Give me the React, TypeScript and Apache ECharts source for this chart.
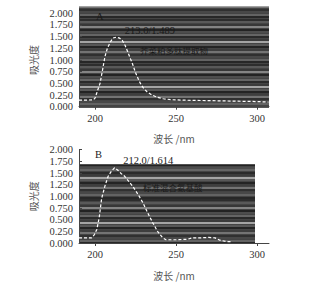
import React, { useEffect, useRef } from "react";
import * as echarts from "echarts";

// Panel A: wavelength (nm) and absorbance
const waveA = [190, 195, 199, 200, 201.5, 203, 204.5, 206, 207.5, 209.4, 211, 213, 215, 216.7, 218.5, 220, 221.5, 223, 225, 227, 228.5, 230, 232, 235, 238.5, 242, 247, 255, 270, 285, 300, 307];
const absA = [0.14, 0.14, 0.15, 0.19, 0.35, 0.5, 0.78, 1.07, 1.25, 1.39, 1.47, 1.489, 1.47, 1.42, 1.31, 1.18, 1.05, 0.92, 0.72, 0.56, 0.46, 0.39, 0.32, 0.25, 0.2, 0.17, 0.15, 0.14, 0.13, 0.12, 0.11, 0.1];
// Panel B
const waveB = [190, 194, 197.8, 199.5, 201, 202.5, 204, 206, 208, 210, 212, 214, 216, 218.2, 220.5, 223.3, 226.5, 229.5, 232.5, 235.6, 238.5, 241.7, 243.7, 250, 257, 260, 265, 270, 274, 277, 281, 284];
const absB = [0.11, 0.11, 0.11, 0.18, 0.29, 0.55, 0.96, 1.22, 1.43, 1.54, 1.614, 1.56, 1.49, 1.43, 1.33, 1.21, 1.04, 0.86, 0.64, 0.43, 0.25, 0.11, 0.07, 0.07, 0.08, 0.11, 0.11, 0.12, 0.11, 0.06, 0.03, 0.03];

const peakA = [213.0, 1.489];
const peakB = [212.0, 1.614];
const xTicks = [200, 250, 300];
const yTitle = "吸光度";
const xTitle = "波长 /nm";
const labelA = "芥菜粕多肽提取物";
const labelB = "标准混合氨基酸";

const stripes = ["#1e1e1e", "#6e6e6e", "#4a4a4a", "#2a2a2a", "#858585", "#3c3c3c", "#1a1a1a", "#5e5e5e", "#c4c4c4", "#383838", "#222222", "#707070", "#505050", "#181818", "#9a9a9a", "#333333", "#606060", "#262626"];

const serif = "Liberation Serif";
const cjk = "Noto Sans CJK SC";

function bgAxes(gi: number, n: number) {
  return {
    x: {
      type: "value", gridIndex: gi, min: 0, max: 1,
      axisLine: { show: false }, axisTick: { show: false }, axisLabel: { show: false }, splitLine: { show: false },
    },
    y: {
      type: "value", gridIndex: gi, min: 0, max: n, interval: 1,
      axisLine: { show: false }, axisTick: { show: false }, axisLabel: { show: false },
      splitLine: { show: true, lineStyle: { color: stripes, width: 1.5 } },
    },
  };
}

function mainX(gi: number) {
  return {
    type: "value", gridIndex: gi, min: 190, max: 307.3,
    name: xTitle, nameLocation: "middle", nameGap: 27,
    nameTextStyle: { fontFamily: cjk, fontSize: 10, color: "#555" },
    axisLine: { show: true, lineStyle: { color: "#444", width: 1 } },
    axisTick: { show: true, inside: false, length: 3, customValues: xTicks, lineStyle: { color: "#444" } },
    axisLabel: { customValues: xTicks, fontFamily: serif, fontSize: 10.5, color: "#333", margin: 6 },
    splitLine: { show: false },
  };
}

function mainY(gi: number) {
  return {
    type: "value", gridIndex: gi, min: 0, max: 2, interval: 0.25,
    name: yTitle, nameLocation: "middle", nameGap: 30, nameRotate: 90,
    nameTextStyle: { fontFamily: cjk, fontSize: 10, color: "#555" },
    axisLine: { show: true, lineStyle: { color: "#444", width: 1 } },
    axisTick: { show: true, inside: true, length: 3, lineStyle: { color: "#444" } },
    axisLabel: { formatter: (v: number) => v.toFixed(3), fontFamily: serif, fontSize: 10.5, color: "#333", margin: 6 },
    splitLine: { show: false },
  };
}

export default function App() {
  const ref = useRef<HTMLDivElement>(null);
  useEffect(() => {
    if (!ref.current) return;
    const chart = echarts.init(ref.current, null, { renderer: "svg" });
    const bgA = bgAxes(0, 40);
    const bgB = bgAxes(2, 31);
    const lineStyle = { color: "#ffffff", width: 1.2, type: [3, 2] };
    const peakMark = (p: number[]) => ({
      symbol: "circle", symbolSize: 1, itemStyle: { color: "rgba(0,0,0,0)" },
      data: [{ coord: p, value: `${p[0].toFixed(1)}/${p[1].toFixed(3)}` }],
      label: { show: true, position: "right", offset: [3, -7], formatter: "{c}", fontFamily: serif, fontSize: 10.5, color: "#1a1a1a" },
    });
    chart.setOption({
      animation: false,
      backgroundColor: "#ffffff",
      grid: [
        { left: 79, top: 7, width: 190, height: 99.7, show: true, backgroundColor: "#444444", borderWidth: 0 },
        { left: 79, top: 13.3, width: 190, height: 93.4 },
        { left: 79, top: 165, width: 176, height: 78, show: true, backgroundColor: "#444444", borderWidth: 0 },
        { left: 79, top: 149.7, width: 190, height: 93.3 },
      ],
      xAxis: [bgA.x, mainX(1), bgB.x, mainX(3)],
      yAxis: [bgA.y, mainY(1), bgB.y, mainY(3)],
      series: [
        {
          type: "line", xAxisIndex: 1, yAxisIndex: 1, showSymbol: false, smooth: false,
          data: waveA.map((w, i) => [w, absA[i]]), lineStyle, markPoint: peakMark(peakA), z: 5,
        },
        {
          type: "line", xAxisIndex: 3, yAxisIndex: 3, showSymbol: false, smooth: false,
          data: waveB.map((w, i) => [w, absB[i]]), lineStyle, markPoint: peakMark(peakB), z: 5,
        },
      ],
      graphic: [
        { type: "text", left: 96, top: 11, z: 10, style: { text: "A", fontFamily: serif, fontSize: 10.5, fill: "#1a1a1a" } },
        { type: "text", left: 95, top: 149, z: 10, style: { text: "B", fontFamily: serif, fontSize: 10.5, fill: "#1a1a1a" } },
        { type: "text", left: 140, top: 46, z: 10, style: { text: labelA, fontFamily: cjk, fontSize: 8.5, fill: "#1a1a1a" } },
        { type: "text", left: 143, top: 183, z: 10, style: { text: labelB, fontFamily: cjk, fontSize: 8.5, fill: "#1a1a1a" } },
      ],
    });
    return () => chart.dispose();
  }, []);
  return <div ref={ref} style={{ position: "fixed", left: 0, top: 0, width: 311, height: 286 }} />;
}
